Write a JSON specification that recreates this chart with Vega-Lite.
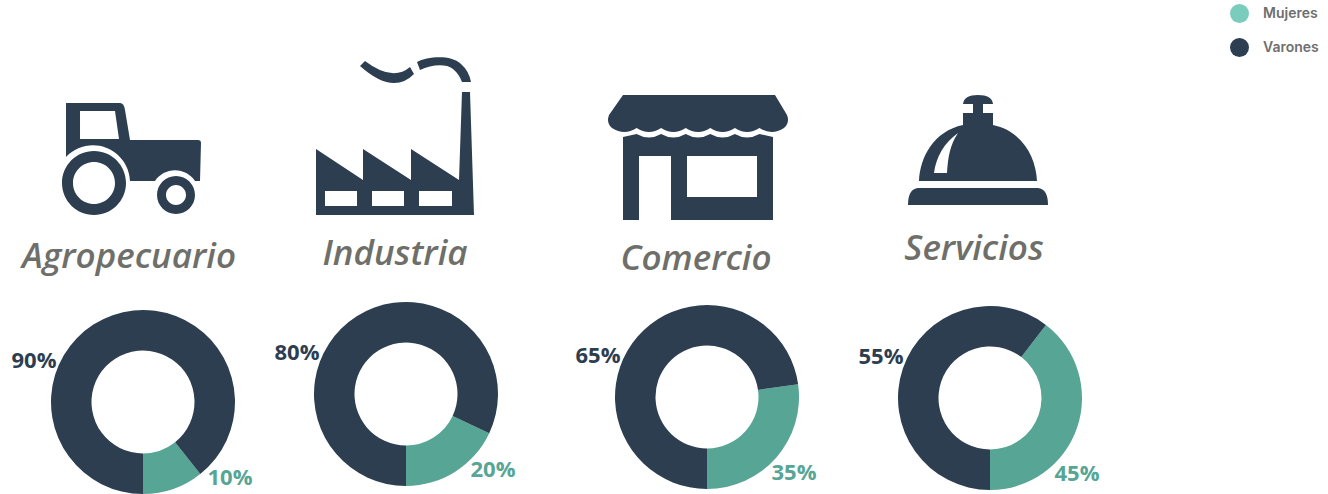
{"$schema":"https://vega.github.io/schema/vega-lite/v6.json","width":1328,"height":494,"padding":0,"autosize":{"type":"fit","contains":"padding"},"background":"white","config":{"view":{"stroke":null}},
"datasets":{"sectores":[{"sector":"Agropecuario","orden":1},{"sector":"Industria","orden":2},{"sector":"Comercio","orden":3},{"sector":"Servicios","orden":4}],
"reparto":[{"sector":"Agropecuario","orden":1,"sexo":"Mujeres","angulo":10.7,"etiqueta":"10%"},{"sector":"Agropecuario","orden":1,"sexo":"Varones","angulo":89.3,"etiqueta":"90%"},{"sector":"Industria","orden":2,"sexo":"Mujeres","angulo":18,"etiqueta":"20%"},{"sector":"Industria","orden":2,"sexo":"Varones","angulo":82,"etiqueta":"80%"},{"sector":"Comercio","orden":3,"sexo":"Mujeres","angulo":27.2,"etiqueta":"35%"},{"sector":"Comercio","orden":3,"sexo":"Varones","angulo":72.8,"etiqueta":"65%"},{"sector":"Servicios","orden":4,"sexo":"Mujeres","angulo":39.6,"etiqueta":"45%"},{"sector":"Servicios","orden":4,"sexo":"Varones","angulo":60.4,"etiqueta":"55%"}]},
"resolve":{"scale":{"x":"independent","y":"independent","color":"independent"},"legend":{"color":"independent"}},
"layer":[
{"data":{"name":"sectores"},"mark":{"type":"point","filled":true,"opacity":1,"size":4,"strokeWidth":0,"color":"#2c3e50"},
"encoding":{"x":{"field":"orden","type":"quantitative","axis":null,"scale":{"domain":[1,2,3,4],"range":[132,395,698,978],"zero":false,"nice":false}},
"y":{"field":"orden","type":"quantitative","axis":null,"scale":{"domain":[1,2,3,4],"range":[159,136,157,151],"zero":false,"nice":false}},
"shape":{"field":"sector","type":"nominal","legend":null,"scale":{"domain":["Agropecuario","Industria","Comercio","Servicios"],"range":[
"M-66,-56 L-12,-56 Q-8,-56 -7,-49 L-2,-19 L66,-19 Q69,-19 69,-16 L68,22 L63,22 A24,24 0 0 0 23,22 L-2,22 A37,37 0 0 0 -66,-2 Z M-52,-48 L-52,-20 L-13,-20 L-17,-48 Z M-70,24 A32,32 0 1 1 -6,24 A32,32 0 1 1 -70,24 Z M-59,24 A21,21 0 1 0 -17,24 A21,21 0 1 0 -59,24 Z M25,36 A19,19 0 1 1 63,36 A19,19 0 1 1 25,36 Z M34,36 A10,10 0 1 0 54,36 A10,10 0 1 0 34,36 Z",
"M-79,13 L-32,44 L-32,13 L16,44 L16,13 L64,44 L67,-44 L75,-44 L79,79 L-79,79 Z M-70,55 L-70,70 L-38,70 L-38,55 Z M-23,55 L-23,70 L9,70 L9,55 Z M24,55 L24,70 L57,70 L57,55 Z M-30,-75 Q-2.5,-54 15,-69 L19,-62 Q-2,-40.5 -35,-70 Z M22,-74 C32,-79 55,-82 66,-72 Q74,-65 76,-54 L67,-54 Q64,-62 58,-67 C50,-73 36,-71 25,-66 Z",
"M-75,-62 L77,-62 L89,-42 Q92,-34 86,-29 Q73.7,-21 61.4,-29 Q49,-21 36.9,-29 Q24.6,-21 12.3,-29 Q0,-21 -12.3,-29 Q-24.6,-21 -36.9,-29 Q-49,-21 -61.4,-29 Q-73.7,-21 -86,-29 Q-92,-34 -89,-42 Z M-75,-20 L-61.4,-23 Q-49,-16 -36.9,-23 Q-24.6,-16 -12.3,-23 Q0,-16 12.3,-23 Q24.6,-16 36.9,-23 Q49,-16 61.4,-23 L75,-20 L75,63 L-27,63 L-27,-1 L-59,-1 L-59,63 L-75,63 Z M-11,-1 L-11,40 L59,40 L59,-1 Z",
"M0,-56 Q14,-56 15,-47 L5,-47 L5,-38 L15,-38 L15,-26 C44,-20 58,6 59,30 L-59,30 C-58,6 -44,-20 -15,-26 L-15,-38 L-5,-38 L-5,-47 L-15,-47 Q-14,-56 0,-56 Z M-20,-18 C-34,-8 -42,6 -44,22 L-31,22 C-30,6 -28,-6 -20,-18 Z M-60,37 L60,37 Q70,38 70,54 L-70,54 Q-70,38 -60,37 Z"
]}}}},
{"data":{"name":"sectores"},"mark":{"type":"text","font":"Open Sans","fontStyle":"italic","fontWeight":600,"fontSize":35,"color":"#6f6f6a","align":"center","baseline":"middle"},
"encoding":{"text":{"field":"sector","type":"nominal"},
"x":{"field":"orden","type":"quantitative","axis":null,"scale":{"domain":[1,2,3,4],"range":[129,395,696,974],"zero":false,"nice":false}},
"y":{"field":"orden","type":"quantitative","axis":null,"scale":{"domain":[1,2,3,4],"range":[257,254,259,249],"zero":false,"nice":false}}}},
{"layer":[
{"transform":[{"stack":"angulo","groupby":["sector"],"sort":[{"field":"sexo","order":"descending"}],"as":["a0","a1"]}],
"mark":{"type":"arc","innerRadius":51.5,"outerRadius":92},
"encoding":{"theta":{"field":"a0","type":"quantitative","stack":null,"scale":{"domain":[0,100],"range":[3.14159265,9.42477796]}},"theta2":{"field":"a1"},
"color":{"field":"sexo","type":"nominal","legend":null,"scale":{"domain":["Mujeres","Varones"],"range":["#56a595","#2c3e50"]}}}},
{"transform":[{"filter":"datum.sexo === 'Varones'"}],"mark":{"type":"text","font":"Open Sans","fontWeight":700,"fontSize":22,"color":"#2c3e50","dx":-109,"dy":-41,"align":"center","baseline":"middle"},"encoding":{"text":{"field":"etiqueta","type":"nominal"}}},
{"transform":[{"filter":"datum.sexo === 'Mujeres'"}],"mark":{"type":"text","font":"Open Sans","fontWeight":700,"fontSize":22,"color":"#56a595","dx":87,"dy":76,"align":"center","baseline":"middle"},"encoding":{"text":{"field":"etiqueta","type":"nominal"}}}
],
"data":{"name":"reparto"},
"encoding":{"x":{"field":"orden","type":"quantitative","axis":null,"scale":{"domain":[1,2,3,4],"range":[143,406,707,990],"zero":false,"nice":false}},
"y":{"field":"orden","type":"quantitative","axis":null,"scale":{"domain":[1,2,3,4],"range":[402,394,397,398],"zero":false,"nice":false}}}},
{"data":{"name":"reparto"},"mark":{"type":"point","filled":true,"size":0,"opacity":1},
"encoding":{"color":{"field":"sexo","type":"nominal","scale":{"domain":["Mujeres","Varones"],"range":["#7accbc","#2c3e50"]},
"legend":{"title":null,"orient":"none","legendX":1230,"legendY":4,"symbolType":"circle","symbolSize":361,"symbolStrokeWidth":0,"rowPadding":15,"labelFont":"Inter","labelFontSize":14,"labelFontWeight":600,"labelColor":"#6e6e6e","labelOffset":14}}}}
]}
